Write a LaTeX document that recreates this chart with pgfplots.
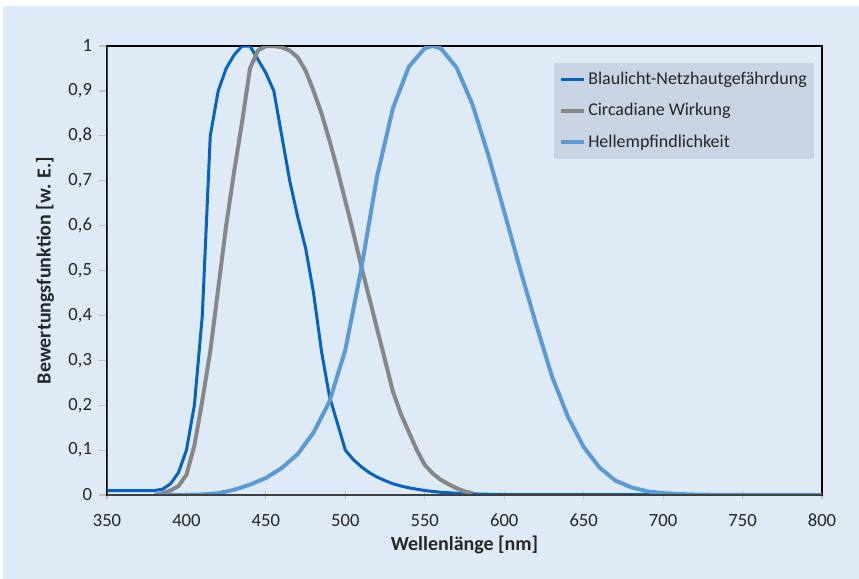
\documentclass[border=0pt]{standalone}
\usepackage{fontspec}
\setmainfont{Carlito}
\usepackage{pgfplots}
\pgfplotsset{compat=1.18}
\definecolor{bgc}{HTML}{DEEBF7}
\definecolor{legc}{HTML}{C8D4E2}
\definecolor{cblue}{HTML}{0563C1}
\definecolor{cgray}{HTML}{878787}
\definecolor{clight}{HTML}{5B9BD5}
\definecolor{axc}{HTML}{404040}
\definecolor{tickc}{HTML}{BFBFBF}
\definecolor{txt}{HTML}{262626}
\begin{document}
\begin{tikzpicture}
\useasboundingbox (-53.5pt,-42pt) rectangle (376pt,247.5pt);
\fill[white] (-53.5pt,-42pt) rectangle (376pt,247.5pt);
\fill[bgc] (-52pt,-42pt) rectangle (376pt,244.5pt);
\begin{axis}[
  scale only axis,
  width=357.5pt, height=224.5pt,
  xmin=350, xmax=800, ymin=0, ymax=1,
  xtick={350,400,450,500,550,600,650,700,750,800},
  ytick={0,0.1,0.2,0.3,0.4,0.5,0.6,0.7,0.8,0.9,1},
  font=\fontsize{9.3}{11}\selectfont,
  /pgf/number format/assume math mode=true,
  /pgf/number format/use comma,
  /pgf/number format/1000 sep={},
  yticklabel style={/pgf/number format/fixed,/pgf/number format/precision=1,text=txt},
  xticklabel style={text=txt, yshift=-4pt},
  axis line style={draw=black, line width=1pt},
  x tick style={draw=tickc, line width=0.6pt},
  y tick style={draw=tickc, line width=0.6pt},
  xtick align=center,
  ytick align=outside,
  major tick length=4pt,
  tick pos=left,
  every axis x label/.style={at={(axis description cs:0.5,-0.111)}, anchor=center},
  every axis y label/.style={at={(axis description cs:-0.0867,0.5)}, rotate=90, anchor=center},
  xlabel={\textbf{Wellenlänge [nm]}},
  ylabel={\textbf{Bewertungsfunktion [w. E.]}},
  label style={text=txt, font=\fontsize{10}{12}\selectfont},
  legend style={at={(rel axis cs:0.625,0.964)}, anchor=north west, fill=legc, draw=none,
    font=\fontsize{9}{11}\selectfont, text=txt, row sep=6pt, inner xsep=2.5pt, inner ysep=3.5pt,
    nodes={inner sep=1pt}},
  legend cell align=left,
  legend image code/.code={\draw[#1] (0pt,0pt) -- (11.5pt,0pt);},
]
\addplot[cblue, line width=1.5pt] coordinates {
(350,0.01)(355,0.01)(360,0.01)(365,0.01)(370,0.01)(375,0.01)(380,0.01)(385,0.013)(390,0.025)(395,0.05)
(400,0.1)(405,0.2)(410,0.4)(415,0.8)(420,0.9)(425,0.95)(430,0.98)(435,1.0)(440,1.0)(445,0.97)
(450,0.94)(455,0.9)(460,0.8)(465,0.7)(470,0.62)(475,0.55)(480,0.45)(485,0.32)(490,0.22)(495,0.16)
(500,0.1)(505,0.079)(510,0.063)(515,0.05)(520,0.04)(525,0.032)(530,0.025)(535,0.02)(540,0.016)(545,0.013)
(550,0.01)(555,0.008)(560,0.006)(565,0.005)(570,0.004)(575,0.003)(580,0.0025)(585,0.002)(590,0.0016)(595,0.0013)
(600,0.001)(650,0.001)(700,0.001)(750,0.001)(800,0.001)
};
\addlegendentry{Blaulicht-Netzhautgefährdung}
\addplot[cgray, line width=2pt] coordinates {
(380,0)(385,0.004)(390,0.01)(395,0.02)(400,0.045)(405,0.11)(410,0.21)(415,0.32)(420,0.46)(425,0.6)
(430,0.72)(435,0.83)(440,0.95)(445,0.99)(450,1.0)(455,1.0)(460,0.997)(465,0.99)(470,0.975)(475,0.945)
(480,0.9)(485,0.85)(490,0.79)(495,0.725)(500,0.655)(505,0.585)(510,0.51)(515,0.44)(520,0.37)(525,0.3)
(530,0.23)(535,0.18)(540,0.14)(545,0.1)(550,0.067)(555,0.048)(560,0.034)(565,0.024)(570,0.015)(575,0.008)(580,0.004)
};
\addlegendentry{Circadiane Wirkung}
\addplot[clight, line width=2pt] coordinates {
(380,0.00004)(390,0.00012)(400,0.0004)(410,0.0012)(420,0.004)(430,0.0116)(440,0.023)(450,0.038)
(460,0.06)(470,0.091)(480,0.139)(490,0.208)(500,0.323)(510,0.503)(520,0.71)(530,0.862)(540,0.954)
(550,0.995)(555,1.0)(560,0.995)(570,0.952)(580,0.87)(590,0.757)(600,0.631)(610,0.503)(620,0.381)
(630,0.265)(640,0.175)(650,0.107)(660,0.061)(670,0.032)(680,0.017)(690,0.0082)(700,0.0041)
(710,0.0021)(720,0.00105)(730,0.00052)(740,0.00025)(750,0.00012)(760,0.00006)(770,0.00003)(780,0.000015)(790,0.000008)(800,0.000004)
};
\addlegendentry{Hellempfindlichkeit}
\draw[axc, line width=1pt] (rel axis cs:0,1) -- (rel axis cs:0,0) -- (rel axis cs:1,0);
\end{axis}
\end{tikzpicture}
\end{document}
